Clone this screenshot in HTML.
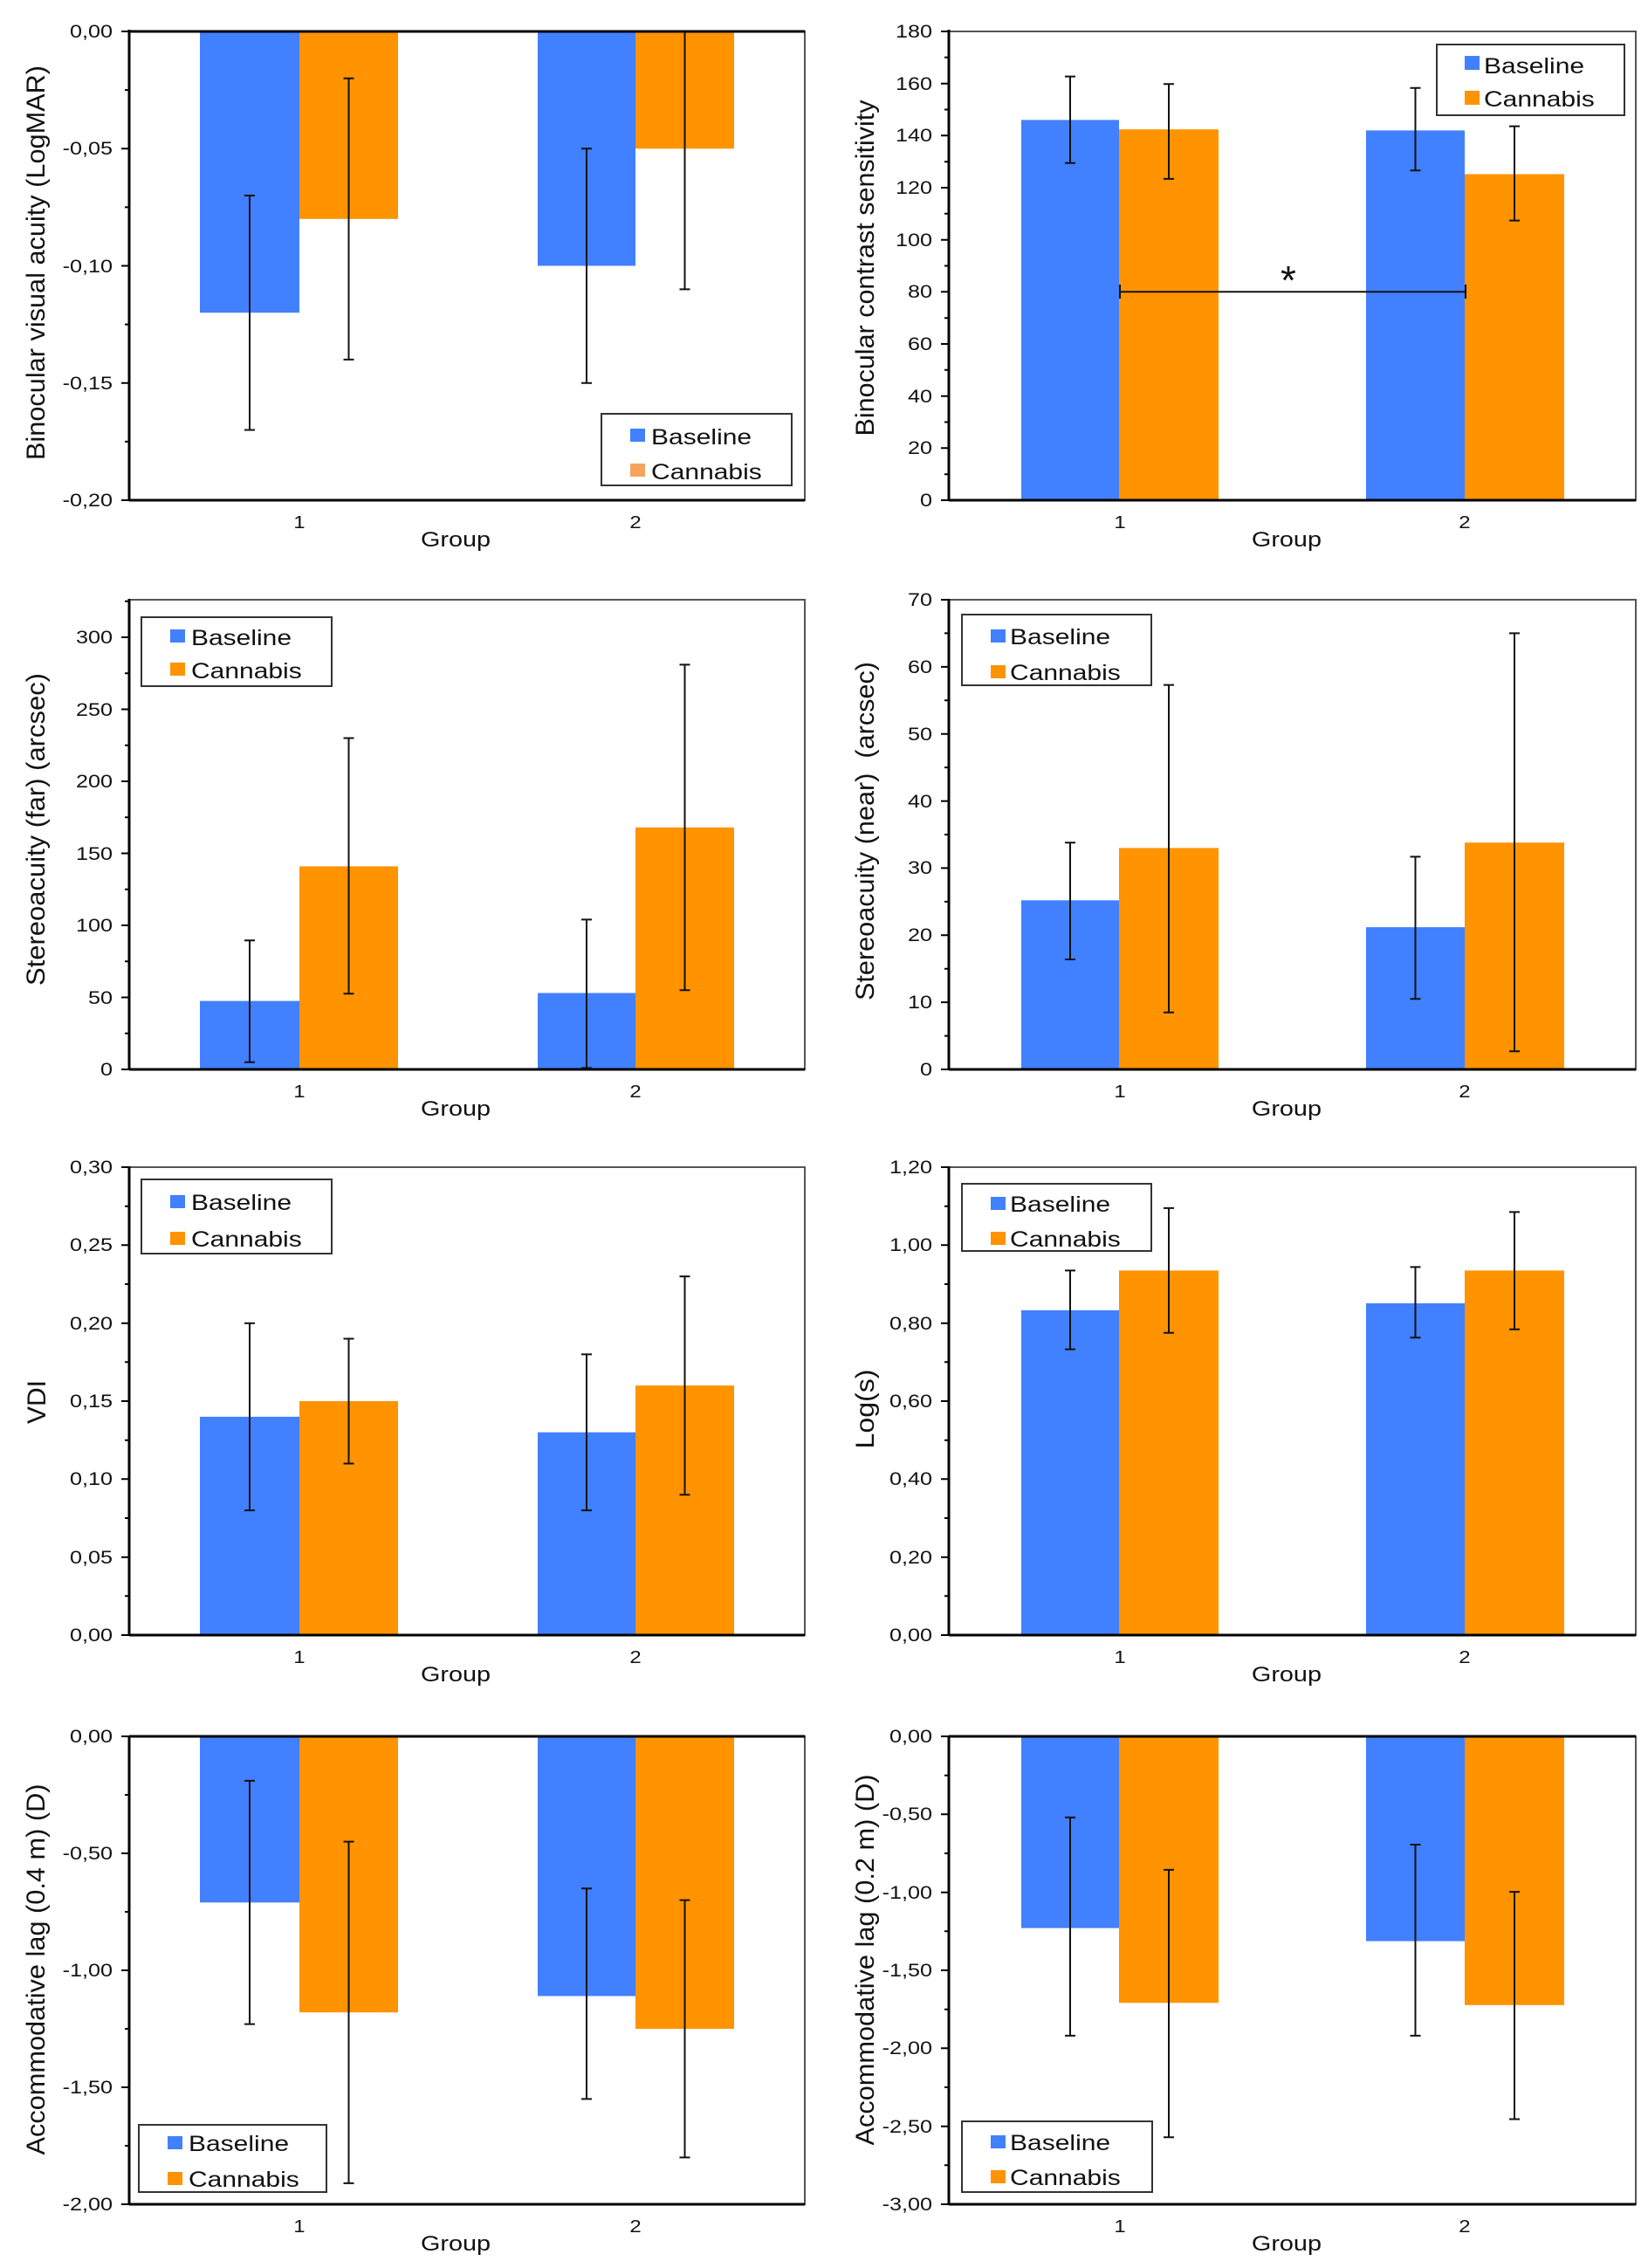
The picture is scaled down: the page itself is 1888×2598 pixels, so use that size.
<!DOCTYPE html>
<html><head><meta charset="utf-8"><style>html,body{margin:0;padding:0;background:#fff}svg{display:block}</style></head>
<body>
<svg xmlns="http://www.w3.org/2000/svg" width="1888" height="2598" viewBox="0 0 1888 2598" font-family="'Liberation Sans', Arial, sans-serif">
<rect width="1888" height="2598" fill="#fff"/>

<!-- ============ BARS ============ -->
<g fill="#4180ff">
<rect x="229" y="36" width="114" height="322.2"/>
<rect x="616" y="36" width="112" height="268.5"/>
<rect x="229" y="1146.6" width="114" height="78.4"/>
<rect x="616" y="1137.5" width="112" height="87.5"/>
<rect x="229" y="1622.9" width="114" height="250.1"/>
<rect x="616" y="1640.7" width="112" height="232.3"/>
<rect x="229" y="1989" width="114" height="190.3"/>
<rect x="616" y="1989" width="112" height="297.5"/>
<rect x="1170" y="137.4" width="112" height="435.6"/>
<rect x="1565" y="149.4" width="113" height="423.6"/>
<rect x="1170" y="1031.3" width="112" height="193.7"/>
<rect x="1565" y="1062.1" width="113" height="162.9"/>
<rect x="1170" y="1500.9" width="112" height="372.1"/>
<rect x="1565" y="1492.9" width="113" height="380.1"/>
<rect x="1170" y="1989" width="112" height="219.6"/>
<rect x="1565" y="1989" width="113" height="234.6"/>
</g>
<g fill="#ff9300">
<rect x="343" y="36" width="113" height="214.8"/>
<rect x="728" y="36" width="113" height="134.3"/>
<rect x="343" y="992.4" width="113" height="232.6"/>
<rect x="728" y="947.8" width="113" height="277.2"/>
<rect x="343" y="1605" width="113" height="268"/>
<rect x="728" y="1587.1" width="113" height="285.9"/>
<rect x="343" y="1989" width="113" height="316.2"/>
<rect x="728" y="1989" width="113" height="335"/>
<rect x="1282" y="148.2" width="114" height="424.8"/>
<rect x="1678" y="199.5" width="114" height="373.5"/>
<rect x="1282" y="971.4" width="114" height="253.6"/>
<rect x="1678" y="965.2" width="114" height="259.8"/>
<rect x="1282" y="1455.4" width="114" height="417.6"/>
<rect x="1678" y="1455.4" width="114" height="417.6"/>
<rect x="1282" y="1989" width="114" height="305.3"/>
<rect x="1678" y="1989" width="114" height="307.8"/>
</g>

<!-- ============ FRAMES ============ -->
<g fill="none" stroke="#555" stroke-width="2">
<rect x="148" y="36" width="774" height="537"/>
<rect x="148" y="687" width="774" height="538"/>
<rect x="148" y="1337" width="774" height="536"/>
<rect x="148" y="1989" width="774" height="536"/>
<rect x="1087" y="36" width="787" height="537"/>
<rect x="1087" y="687" width="787" height="538"/>
<rect x="1087" y="1337" width="787" height="536"/>
<rect x="1087" y="1989" width="787" height="536"/>
</g>
<g stroke="#000" stroke-width="3" fill="none">
<path d="M148 34V574 M148 686V1226 M148 1336V1874 M148 1988V2526"/>
<path d="M1087 34V574 M1087 686V1226 M1087 1336V1874 M1087 1988V2526"/>
<path d="M148 36H922 M148 573H922 M148 1225H922 M148 1873H922 M148 1989H922 M148 2525H922"/>
<path d="M1087 573H1874 M1087 1225H1874 M1087 1873H1874 M1087 1989H1874 M1087 2525H1874"/>
</g>

<!-- ============ TICKS ============ -->
<g stroke="#000" stroke-width="2" fill="none">
<path d="M139 36H148 M139 170.25H148 M139 304.5H148 M139 438.75H148 M139 573H148
M143 103.1H148 M143 237.4H148 M143 371.6H148 M143 505.9H148"/>
<path d="M139 1225H148 M139 1142.5H148 M139 1060H148 M139 977.5H148 M139 895H148 M139 812.5H148 M139 730H148
M143 1183.75H148 M143 1101.25H148 M143 1018.75H148 M143 936.25H148 M143 853.75H148 M143 771.25H148 M143 688.75H148"/>
<path d="M139 1873H148 M139 1783.7H148 M139 1694.3H148 M139 1605H148 M139 1515.7H148 M139 1426.3H148 M139 1337H148
M143 1828.3H148 M143 1739H148 M143 1649.7H148 M143 1560.3H148 M143 1471H148 M143 1381.7H148"/>
<path d="M139 1989H148 M139 2123H148 M139 2257H148 M139 2391H148 M139 2525H148
M143 2056H148 M143 2190H148 M143 2324H148 M143 2458H148"/>
<path d="M1078 573H1087 M1078 513.3H1087 M1078 453.7H1087 M1078 394H1087 M1078 334.3H1087 M1078 274.7H1087 M1078 215H1087 M1078 155.3H1087 M1078 95.7H1087 M1078 36H1087
M1082 543.2H1087 M1082 483.5H1087 M1082 423.8H1087 M1082 364.2H1087 M1082 304.5H1087 M1082 244.8H1087 M1082 185.2H1087 M1082 125.5H1087 M1082 65.8H1087"/>
<path d="M1078 1225H1087 M1078 1148.1H1087 M1078 1071.3H1087 M1078 994.4H1087 M1078 917.6H1087 M1078 840.7H1087 M1078 763.9H1087 M1078 687H1087
M1082 1186.6H1087 M1082 1109.7H1087 M1082 1032.9H1087 M1082 956H1087 M1082 879.1H1087 M1082 802.3H1087 M1082 725.4H1087"/>
<path d="M1078 1873H1087 M1078 1783.7H1087 M1078 1694.3H1087 M1078 1605H1087 M1078 1515.7H1087 M1078 1426.3H1087 M1078 1337H1087
M1082 1828.3H1087 M1082 1739H1087 M1082 1649.7H1087 M1082 1560.3H1087 M1082 1471H1087 M1082 1381.7H1087"/>
<path d="M1078 1989H1087 M1078 2078.3H1087 M1078 2167.7H1087 M1078 2257H1087 M1078 2346.3H1087 M1078 2435.7H1087 M1078 2525H1087
M1082 2033.7H1087 M1082 2123H1087 M1082 2212.3H1087 M1082 2301.7H1087 M1082 2391H1087 M1082 2480.3H1087"/>
</g>

<!-- ============ ERROR BARS ============ -->
<g stroke="#111" stroke-width="2" fill="none">
<path d="M286 224V492.5 M280 224H292 M280 492.5H292"/>
<path d="M399.5 89.7V411.9 M393.5 89.7H405.5 M393.5 411.9H405.5"/>
<path d="M672 170.3V438.8 M666 170.3H678 M666 438.8H678"/>
<path d="M784.5 36V331.4 M778.5 331.4H790.5"/>
<path d="M286 1077.3V1216.75 M280 1077.3H292 M280 1216.75H292"/>
<path d="M399.5 845.5V1138.2 M393.5 845.5H405.5 M393.5 1138.2H405.5"/>
<path d="M672 1053.4V1223.35 M666 1053.4H678 M666 1223.35H678"/>
<path d="M784.5 761.35V1134.25 M778.5 761.35H790.5 M778.5 1134.25H790.5"/>
<path d="M286 1515.7V1730.1 M280 1515.7H292 M280 1730.1H292"/>
<path d="M399.5 1533.5V1676.5 M393.5 1533.5H405.5 M393.5 1676.5H405.5"/>
<path d="M672 1551.4V1730.1 M666 1551.4H678 M666 1730.1H678"/>
<path d="M784.5 1462.1V1712.2 M778.5 1462.1H790.5 M778.5 1712.2H790.5"/>
<path d="M286 2039.9V2318.6 M280 2039.9H292 M280 2318.6H292"/>
<path d="M399.5 2109.6V2500.9 M393.5 2109.6H405.5 M393.5 2500.9H405.5"/>
<path d="M672 2163.2V2404.4 M666 2163.2H678 M666 2404.4H678"/>
<path d="M784.5 2176.6V2471.4 M778.5 2176.6H790.5 M778.5 2471.4H790.5"/>
<path d="M1226 87.6V186.7 M1220 87.6H1232 M1220 186.7H1232"/>
<path d="M1339 96.3V204.9 M1333 96.3H1345 M1333 204.9H1345"/>
<path d="M1621.5 100.7V195.3 M1615.5 100.7H1627.5 M1615.5 195.3H1627.5"/>
<path d="M1735 144.6V252.6 M1729 144.6H1741 M1729 252.6H1741"/>
<path d="M1226 965.2V1099 M1220 965.2H1232 M1220 1099H1232"/>
<path d="M1339 784.6V1159.7 M1333 784.6H1345 M1333 1159.7H1345"/>
<path d="M1621.5 981.4V1144.3 M1615.5 981.4H1627.5 M1615.5 1144.3H1627.5"/>
<path d="M1735 725.4V1204.2 M1729 725.4H1741 M1729 1204.2H1741"/>
<path d="M1226 1455.4V1545.6 M1220 1455.4H1232 M1220 1545.6H1232"/>
<path d="M1339 1383.9V1526.8 M1333 1383.9H1345 M1333 1526.8H1345"/>
<path d="M1621.5 1451.4V1532.2 M1615.5 1451.4H1627.5 M1615.5 1532.2H1627.5"/>
<path d="M1735 1388.4V1522.8 M1729 1388.4H1741 M1729 1522.8H1741"/>
<path d="M1226 2081.9V2331.9 M1220 2081.9H1232 M1220 2331.9H1232"/>
<path d="M1339 2141.9V2448.2 M1333 2141.9H1345 M1333 2448.2H1345"/>
<path d="M1621.5 2113V2331.9 M1615.5 2113H1627.5 M1615.5 2331.9H1627.5"/>
<path d="M1735 2167.1V2427.5 M1729 2167.1H1741 M1729 2427.5H1741"/>
<path d="M1283 334.3H1679 M1283 326V342 M1679 326V342"/>
</g>
<text x="1476" y="337" font-size="46" text-anchor="middle" fill="#111">*</text>

<!-- ============ LEGENDS ============ -->
<g fill="#fff" stroke="#333" stroke-width="2">
<rect x="689" y="474" width="218" height="82"/>
<rect x="1646" y="51" width="215" height="81"/>
<rect x="162" y="707" width="218" height="79"/>
<rect x="162" y="1351" width="218" height="85"/>
<rect x="159" y="2434" width="215" height="77"/>
<rect x="1102" y="704" width="217" height="81"/>
<rect x="1102" y="1356" width="217" height="77"/>
<rect x="1102" y="2430" width="218" height="81"/>
</g>
<g fill="#4180ff">
<rect x="722" y="491" width="17" height="15"/>
<rect x="1678" y="64" width="17" height="16"/>
<rect x="195" y="721" width="17" height="15"/>
<rect x="195" y="1369" width="17" height="15"/>
<rect x="192" y="2447" width="17" height="15"/>
<rect x="1135" y="721" width="17" height="15"/>
<rect x="1135" y="1371" width="17" height="15"/>
<rect x="1135" y="2446" width="17" height="15"/>
</g>
<g fill="#ff9300">
<rect x="1678" y="104" width="17" height="16"/>
<rect x="195" y="759" width="17" height="15"/>
<rect x="195" y="1411" width="17" height="15"/>
<rect x="192" y="2488" width="17" height="15"/>
<rect x="1135" y="762" width="17" height="15"/>
<rect x="1135" y="1411" width="17" height="15"/>
<rect x="1135" y="2486" width="17" height="15"/>
</g>
<rect x="722" y="531" width="17" height="15" fill="#f6a45c"/>

<!-- ============ HORIZONTAL TEXT (stretched 1.2x) ============ -->
<g transform="scale(1.2,1)" fill="#111">
<g font-size="21" text-anchor="end">
<text x="107.5" y="43">0,00</text>
<text x="107.5" y="177">-0,05</text>
<text x="107.5" y="312">-0,10</text>
<text x="107.5" y="446">-0,15</text>
<text x="107.5" y="580">-0,20</text>

<text x="107.5" y="1232">0</text>
<text x="107.5" y="1150">50</text>
<text x="107.5" y="1067">100</text>
<text x="107.5" y="985">150</text>
<text x="107.5" y="902">200</text>
<text x="107.5" y="820">250</text>
<text x="107.5" y="737">300</text>

<text x="107.5" y="1880">0,00</text>
<text x="107.5" y="1791">0,05</text>
<text x="107.5" y="1701">0,10</text>
<text x="107.5" y="1612">0,15</text>
<text x="107.5" y="1523">0,20</text>
<text x="107.5" y="1433">0,25</text>
<text x="107.5" y="1344">0,30</text>

<text x="107.5" y="1996">0,00</text>
<text x="107.5" y="2130">-0,50</text>
<text x="107.5" y="2264">-1,00</text>
<text x="107.5" y="2398">-1,50</text>
<text x="107.5" y="2532">-2,00</text>

<text x="890" y="580">0</text>
<text x="890" y="520">20</text>
<text x="890" y="461">40</text>
<text x="890" y="401">60</text>
<text x="890" y="341">80</text>
<text x="890" y="282">100</text>
<text x="890" y="222">120</text>
<text x="890" y="162">140</text>
<text x="890" y="103">160</text>
<text x="890" y="43">180</text>

<text x="890" y="1232">0</text>
<text x="890" y="1155">10</text>
<text x="890" y="1078">20</text>
<text x="890" y="1001">30</text>
<text x="890" y="925">40</text>
<text x="890" y="848">50</text>
<text x="890" y="771">60</text>
<text x="890" y="694">70</text>

<text x="890" y="1880">0,00</text>
<text x="890" y="1791">0,20</text>
<text x="890" y="1701">0,40</text>
<text x="890" y="1612">0,60</text>
<text x="890" y="1523">0,80</text>
<text x="890" y="1433">1,00</text>
<text x="890" y="1344">1,20</text>

<text x="890" y="1996">0,00</text>
<text x="890" y="2085">-0,50</text>
<text x="890" y="2175">-1,00</text>
<text x="890" y="2264">-1,50</text>
<text x="890" y="2353">-2,00</text>
<text x="890" y="2443">-2,50</text>
<text x="890" y="2532">-3,00</text>
</g>

<g font-size="20" text-anchor="middle">
<text x="285.8" y="605">1</text><text x="606.7" y="605">2</text>
<text x="1069.2" y="605">1</text><text x="1398.3" y="605">2</text>
<text x="285.8" y="1257">1</text><text x="606.7" y="1257">2</text>
<text x="1069.2" y="1257">1</text><text x="1398.3" y="1257">2</text>
<text x="285.8" y="1905">1</text><text x="606.7" y="1905">2</text>
<text x="1069.2" y="1905">1</text><text x="1398.3" y="1905">2</text>
<text x="285.8" y="2557">1</text><text x="606.7" y="2557">2</text>
<text x="1069.2" y="2557">1</text><text x="1398.3" y="2557">2</text>
</g>
<g font-size="24" text-anchor="middle">
<text x="435" y="626">Group</text><text x="1228.3" y="626">Group</text>
<text x="435" y="1278">Group</text><text x="1228.3" y="1278">Group</text>
<text x="435" y="1926">Group</text><text x="1228.3" y="1926">Group</text>
<text x="435" y="2578">Group</text><text x="1228.3" y="2578">Group</text>
</g>

<g font-size="25">
<text x="621.7" y="509">Baseline</text><text x="621.7" y="549">Cannabis</text>
<text x="1416.7" y="84">Baseline</text><text x="1416.7" y="122">Cannabis</text>
<text x="182.5" y="739">Baseline</text><text x="182.5" y="777">Cannabis</text>
<text x="182.5" y="1386">Baseline</text><text x="182.5" y="1428">Cannabis</text>
<text x="180" y="2464">Baseline</text><text x="180" y="2505">Cannabis</text>
<text x="964.2" y="738">Baseline</text><text x="964.2" y="779">Cannabis</text>
<text x="964.2" y="1388">Baseline</text><text x="964.2" y="1428">Cannabis</text>
<text x="964.2" y="2463">Baseline</text><text x="964.2" y="2503">Cannabis</text>
</g>
</g>

<!-- ============ Y AXIS TITLES ============ -->
<g font-size="30" fill="#111" text-anchor="middle">
<text transform="translate(51,301) rotate(-90)" textLength="452" lengthAdjust="spacingAndGlyphs">Binocular visual acuity (LogMAR)</text>
<text transform="translate(51,950) rotate(-90)" textLength="358" lengthAdjust="spacingAndGlyphs">Stereoacuity (far) (arcsec)</text>
<text transform="translate(52,1606) rotate(-90)" textLength="50" lengthAdjust="spacingAndGlyphs">VDI</text>
<text transform="translate(51,2256) rotate(-90)" textLength="425" lengthAdjust="spacingAndGlyphs">Accommodative lag (0.4 m) (D)</text>
<text transform="translate(1001,307) rotate(-90)" textLength="385" lengthAdjust="spacingAndGlyphs">Binocular contrast sensitivity</text>
<text transform="translate(1001,952) rotate(-90)" textLength="388" lengthAdjust="spacingAndGlyphs" xml:space="preserve">Stereoacuity (near)  (arcsec)</text>
<text transform="translate(1001,1614) rotate(-90)" textLength="91" lengthAdjust="spacingAndGlyphs">Log(s)</text>
<text transform="translate(1001,2245) rotate(-90)" textLength="425" lengthAdjust="spacingAndGlyphs">Accommodative lag (0.2 m) (D)</text>
</g>
</svg>
</body></html>
